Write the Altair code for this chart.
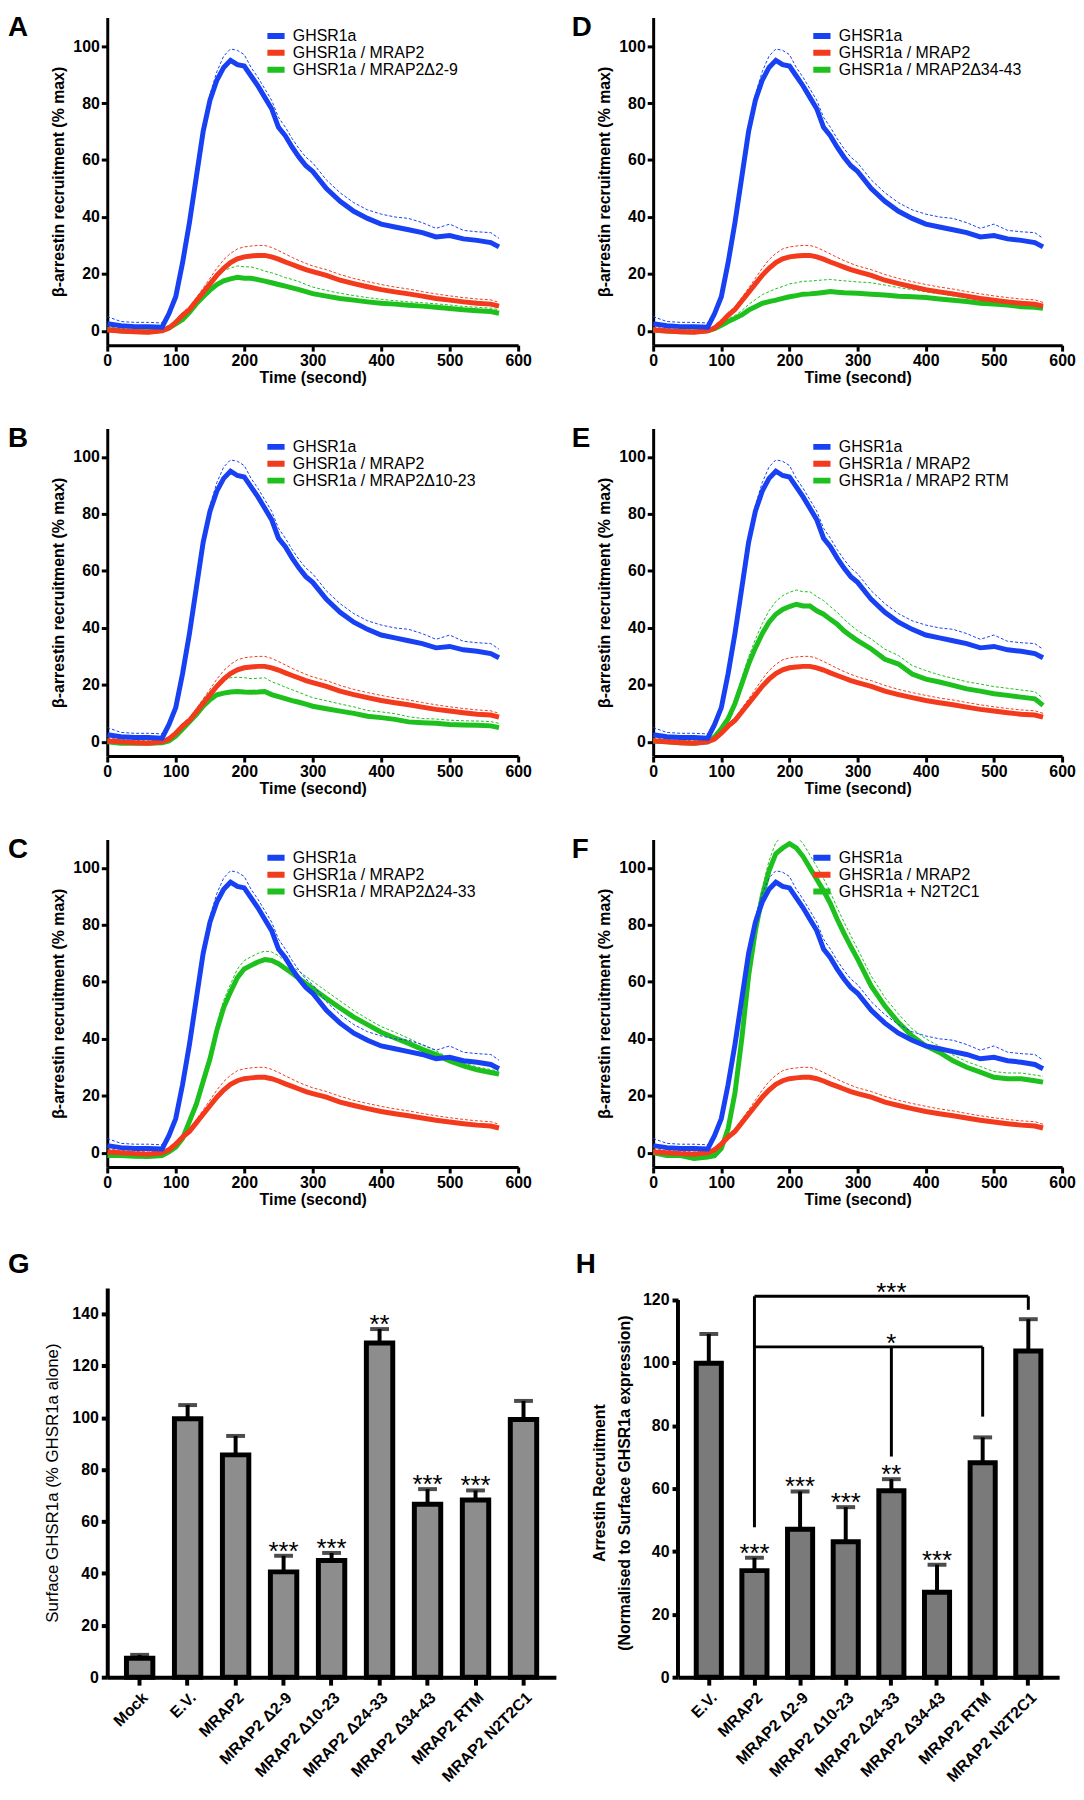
import altair as alt
import pandas as pd

FONT = "Liberation Sans"
BLUE, RED, GREEN = "#1741f2", "#f43a1c", "#1ec01e"

# ---------------- time-course data (seconds, % max) ----------------
TIME = [0, 20, 40, 60, 80, 90, 100, 110, 120, 130, 140, 150, 160, 170, 180, 190, 200,
        210, 220, 230, 240, 250, 260, 270, 280, 290, 300, 320, 340, 360, 380, 400, 420,
        440, 460, 480, 500, 520, 540, 560, 572]

GHSR_MEAN = [2.5, 1.8, 1.5, 1.5, 1.3, 6, 12, 24, 38, 54, 70, 81, 88, 92.5, 95, 93.5, 93,
             89.5, 86, 82, 78, 71.5, 68.5, 64.5, 61, 58, 56, 50, 45.5, 42, 39.5, 37.5, 36.5,
             35.5, 34.5, 33, 33.5, 32.3, 31.8, 31, 29.5]
GHSR_SEM = [2.5, 1.5, 1.5, 1.5, 1.5, 1, 1, 1, 1, 1, 1.5, 2, 3, 4, 4, 5, 4, 3, 3, 3, 3,
            3.5, 3, 3, 3, 3, 3, 3, 3, 3, 3, 3.5, 3.5, 4, 3.5, 3, 4, 3, 3, 3.5, 3]

MRAP2_MEAN = [0.3, 0, -0.3, -0.5, 0, 1, 3, 5.5, 7.5, 10.5, 13.5, 16.5, 19.5, 22, 24, 25.3,
              26, 26.3, 26.5, 26.5, 26, 25.2, 24.2, 23.3, 22.4, 21.5, 20.8, 19.5, 17.8, 16.6,
              15.5, 14.5, 13.7, 13, 12.2, 11.4, 10.8, 10.2, 9.7, 9.4, 8.7]
MRAP2_SEM = [1, 0.8, 0.8, 0.8, 0.8, 0.8, 1, 1, 1, 1.2, 1.5, 2, 2.5, 3, 3.2, 3.5, 3.5, 3.5,
             3.5, 3.5, 3.3, 3, 2.8, 2.5, 2.3, 2.2, 2, 2, 2, 1.8, 1.8, 1.8, 1.7, 1.7, 1.6,
             1.6, 1.5, 1.5, 1.5, 1.5, 1.3]

D2_9_MEAN = [0.5, 0, -0.2, -0.3, 0.2, 1, 2.5, 4, 6.5, 9.5, 12, 14.3, 16.3, 17.6, 18.3, 18.8,
             18.5, 18.5, 18, 17.5, 16.9, 16.3, 15.7, 15.1, 14.5, 13.8, 13.1, 12.2, 11.4,
             10.8, 10.2, 9.7, 9.4, 9, 8.7, 8.3, 7.9, 7.4, 7.1, 6.8, 6.2]
D2_9_SEM = [0.7, 0.7, 0.7, 0.7, 0.7, 1, 1, 1, 1, 1.5, 2, 2.5, 3, 3.5, 3.8, 4, 4, 4, 3.8,
            3.5, 3.5, 3.3, 3, 3, 2.8, 2.5, 2.3, 2, 1.8, 1.6, 1.5, 1.4, 1.2, 1.2, 1.2, 1.2,
            1.2, 1.2, 1.2, 1.2, 1.2]

D10_23_MEAN = [0, -0.5, -0.5, -0.5, -0.3, 0.3, 2, 4.5, 7, 9.6, 12.5, 14.8, 16.5, 17.1, 17.5,
               17.7, 17.5, 17.4, 17.5, 17.7, 16.6, 15.9, 15.2, 14.5, 13.9, 13.2, 12.5, 11.6,
               10.8, 10, 9, 8.5, 7.9, 7, 6.7, 6.5, 6.1, 5.9, 5.8, 5.6, 5]
D10_23_SEM = [0.8, 0.8, 0.8, 0.8, 0.8, 0.8, 1, 1.2, 1.5, 2, 2.5, 3, 4, 4.5, 5, 5, 5, 4.8,
              4.8, 4.8, 4.5, 4.3, 4, 3.8, 3.5, 3.2, 3, 2.8, 2.5, 2.3, 2, 2, 2, 1.8, 1.5,
              1.5, 1.5, 1.5, 1.5, 1.5, 1.5]

D24_33_MEAN = [-1, -1, -1.2, -1.3, -1, 0.3, 2, 5, 11, 17, 25, 33, 43, 51, 56.5, 61.5, 64.5,
               65.8, 67, 67.8, 67.5, 66.4, 64.7, 63, 61.2, 59.4, 57.7, 54.2, 50.8, 47.6, 45,
               42.3, 40.3, 38.4, 36.3, 34.5, 32.2, 30.5, 29.1, 28.2, 27.6]
D24_33_SEM = [0.8, 0.8, 0.8, 0.8, 0.8, 0.8, 1, 1.2, 1.5, 1.8, 2, 2, 2.2, 2.5, 2.7, 3, 3, 3,
              3, 3, 3, 2.8, 2.5, 2.5, 2.5, 2.5, 2.5, 2.5, 2.5, 2.3, 2, 2, 2, 1.8, 1.5, 1.3,
              1, 1, 1, 1, 1]

D34_43_MEAN = [0.3, 0, -0.3, -0.3, 0, 0.8, 2, 3.3, 4.4, 5.6, 7.3, 8.5, 9.7, 10.3, 10.8, 11.4,
               12, 12.4, 12.9, 13, 13.2, 13.5, 13.8, 13.6, 13.4, 13.3, 13.2, 12.9, 12.6, 12.2,
               12, 11.7, 11.2, 10.8, 10.3, 9.7, 9.4, 9.1, 8.5, 8.3, 7.9]
D34_43_SEM = [0.5, 0.5, 0.5, 0.5, 0.5, 0.5, 0.8, 0.9, 1, 1.5, 2, 2.5, 3, 3.5, 4, 4.2, 4.5,
              4.5, 4.5, 4.5, 4.5, 4.4, 4.3, 4.2, 4.2, 4.1, 4, 4, 3.5, 3, 2.5, 2, 1.8, 1.5,
              1.2, 1.2, 1.2, 1.2, 1.2, 1.2, 1.2]

RTM_MEAN = [0.3, 0, -0.3, -0.5, 0, 1.7, 4.6, 8.1, 13.4, 20.3, 27.3, 33, 38, 42, 44.8, 46.5,
            47.5, 48.3, 47.7, 47.7, 46, 44.8, 43, 41.3, 39, 37.2, 35.5, 32.6, 29, 27.3, 23.8,
            22, 21, 19.8, 18.6, 17.8, 16.9, 16.3, 15.7, 15.1, 12.8]
RTM_SEM = [0.8, 0.8, 0.8, 0.8, 0.8, 0.8, 1, 1.2, 1.5, 2, 2.5, 3, 3.5, 4, 4.5, 4.8, 5, 5, 5,
           5, 5, 4.8, 4.5, 4.2, 4, 3.8, 3.5, 3.5, 3.5, 3, 3, 3, 2.5, 2.5, 2.5, 2.5, 2.5,
           2.5, 2.5, 2.5, 2.5]

N2T2C1_MEAN = [0, -1, -1, -2, -1.5, -1, 1.5, 8.5, 21, 40, 62, 78, 90, 99, 105, 107, 108.5,
               107, 104, 100, 96, 92, 87.5, 82, 77, 72.4, 68, 58.5, 51.5, 45.7, 41, 37.5,
               35.2, 32.3, 30, 28.3, 26.5, 26, 26, 25.3, 24.8]
N2T2C1_SEM = [0.8, 0.8, 0.8, 0.8, 0.8, 0.8, 1, 1.2, 1.5, 1.8, 2, 2.5, 3, 3.5, 4, 4, 4, 4.2,
              4.5, 4.5, 4.5, 4.3, 4, 4, 4, 3.8, 3.5, 3.5, 3, 3, 2.5, 2.5, 2.2, 2, 2, 2, 2,
              2, 2, 2, 2]

# ---------------- bar data ----------------
G_CATS = ["Mock", "E.V.", "MRAP2", "MRAP2 Δ2-9", "MRAP2 Δ10-23", "MRAP2 Δ24-33",
          "MRAP2 Δ34-43", "MRAP2 RTM", "MRAP2 N2T2C1"]
G_MEAN = [7.3, 99.6, 85.7, 40.6, 45.0, 128.8, 66.7, 68.3, 99.3]
G_SEM = [1.3, 5.3, 7.3, 6.2, 2.9, 5.4, 5.8, 3.7, 7.2]
G_SIG = ["", "", "", "***", "***", "**", "***", "***", ""]

H_CATS = ["E.V.", "MRAP2", "MRAP2 Δ2-9", "MRAP2 Δ10-23", "MRAP2 Δ24-33",
          "MRAP2 Δ34-43", "MRAP2 RTM", "MRAP2 N2T2C1"]
H_MEAN = [99.9, 33.9, 47.1, 43.1, 59.3, 27.0, 68.2, 103.8]
H_SEM = [9.3, 4.1, 12.0, 11.0, 3.7, 8.8, 8.1, 10.1]
H_SIG = ["", "***", "***", "***", "**", "***", "", ""]

# significance brackets in panel H
BR_H_FROM = ["MRAP2", "MRAP2"]
BR_H_TO = ["MRAP2 N2T2C1", "MRAP2 RTM"]
BR_H_Y = [121.2, 105.1]
BR_V_CAT = ["MRAP2", "MRAP2 N2T2C1", "MRAP2 RTM", "MRAP2 Δ24-33"]
BR_V_TOP = [121.2, 121.2, 105.1, 105.1]
BR_V_BOTTOM = [47.7, 116.9, 82.9, 70.2]
BR_TXT_CAT = ["MRAP2 Δ24-33", "MRAP2 Δ24-33"]
BR_TXT_Y = [121.2, 105.1]
BR_TXT = ["***", "*"]


def letter_mark(letter, x, y):
    return alt.Chart(pd.DataFrame({"letter": [letter]})).mark_text(
        fontSize=28, fontWeight="bold", font=FONT, color="black", align="left",
        baseline="alphabetic").encode(x=alt.value(x), y=alt.value(y), text="letter:N")


def time_panel(letter, green_name, g_mean, g_sem, width, lx):
    names = ["GHSR1a", "GHSR1a / MRAP2", green_name]
    colors = [BLUE, RED, GREEN]
    means = [GHSR_MEAN, MRAP2_MEAN, g_mean]
    sems = [GHSR_SEM, MRAP2_SEM, g_sem]
    cscale = alt.Scale(domain=names, range=colors)
    xaxis = alt.Axis(values=[0, 100, 200, 300, 400, 500, 600], title="Time (second)",
                     domainWidth=3, tickWidth=3, tickSize=6, labelPadding=2,
                     titlePadding=1, labelFlush=False, labelOverlap=False)
    yaxis = alt.Axis(values=[0, 20, 40, 60, 80, 100], title="β-arrestin recruitment (% max)",
                     domainWidth=3, tickWidth=3, tickSize=6, labelPadding=2,
                     titlePadding=6, labelFlush=False, labelOverlap=False)
    xs = alt.Scale(domain=[0, 600], nice=False, zero=False)
    ys = alt.Scale(domain=[-5, 110], nice=False, zero=False)
    legend = alt.Legend(title=None, orient="none", legendX=158, legendY=10,
                        symbolType="stroke", symbolStrokeWidth=6, symbolSize=300,
                        labelFontSize=16, labelFont=FONT, labelFontWeight="normal",
                        labelColor="black", rowPadding=0, clipHeight=17, labelOffset=5,
                        padding=0, labelLimit=0)
    layers = []
    for i in [2, 1, 0]:
        df = pd.DataFrame({"t": TIME, "series": names[i], "mean": means[i],
                           "upper": [m + s for m, s in zip(means[i], sems[i])]})
        base = alt.Chart(df)
        layers.append(base.mark_line(strokeWidth=1, strokeDash=[3, 2], clip=True,
                                     color=colors[i]).encode(
            x=alt.X("t:Q", scale=xs, axis=xaxis),
            y=alt.Y("upper:Q", scale=ys, axis=yaxis)))
        layers.append(base.mark_line(strokeWidth=5, clip=True).encode(
            x=alt.X("t:Q", scale=xs, axis=xaxis),
            y=alt.Y("mean:Q", scale=ys, axis=yaxis),
            color=alt.Color("series:N", scale=cscale, legend=legend)))
    layers.append(letter_mark(letter, lx, 19))
    return alt.layer(*layers).properties(width=width, height=330)


def bar_panel(letter, cats, mean, sem, sig, fill, width, ymax, yvalues, ytitle,
              titlepad, title_size, title_weight, lx, brackets=False):
    df = pd.DataFrame({"cat": cats, "mean": mean,
                       "top": [m + s for m, s in zip(mean, sem)], "sig": sig})
    xs = alt.Scale(domain=cats, paddingInner=0.45, paddingOuter=0.4)
    xaxis = alt.Axis(title=None, labelAngle=-45, labelAlign="right", labelBaseline="top",
                     labelFontSize=16, domainWidth=4, tickWidth=4, tickSize=8,
                     labelPadding=4, labelOverlap=False, labelLimit=0)
    ys = alt.Scale(domain=[0, ymax], nice=False, zero=True)
    yaxis = alt.Axis(values=yvalues, title=ytitle, domainWidth=4, tickWidth=4, tickSize=6,
                     labelPadding=3, titlePadding=titlepad, titleFontWeight=title_weight,
                     titleFontSize=title_size, titleLineHeight=25, labelFlush=False,
                     domain=not brackets)
    x = alt.X("cat:N", scale=xs, axis=xaxis, sort=cats)
    base = alt.Chart(df)
    bars = base.mark_bar(fill=fill, stroke="black", strokeWidth=5).encode(
        x=x, y=alt.Y("mean:Q", scale=ys, axis=yaxis))
    err = base.mark_rule(strokeWidth=4, color="black").encode(
        x=x, y=alt.Y("mean:Q", scale=ys, axis=yaxis), y2="top:Q")
    cap = base.mark_tick(thickness=4, size=19, color="black").encode(
        x=x, y=alt.Y("top:Q", scale=ys, axis=yaxis))
    stars = base.mark_text(fontSize=26, baseline="alphabetic", dy=4, color="black",
                           font=FONT).encode(
        x=x, y=alt.Y("top:Q", scale=ys, axis=yaxis), text="sig:N")
    layers = [bars, err, cap, stars]
    if brackets:
        adf = pd.DataFrame({"y0": [0], "y1": [120]})
        axis_line = alt.Chart(adf).mark_rule(strokeWidth=4, color="black").encode(
            x=alt.value(0), y=alt.Y("y0:Q", scale=ys, axis=yaxis), y2="y1:Q")
        hdf = pd.DataFrame({"a": BR_H_FROM, "b": BR_H_TO, "y": BR_H_Y})
        hr = alt.Chart(hdf).mark_rule(strokeWidth=3, color="black").encode(
            x=alt.X("a:N", scale=xs, axis=xaxis, sort=cats), x2="b:N",
            y=alt.Y("y:Q", scale=ys, axis=yaxis))
        vdf = pd.DataFrame({"c": BR_V_CAT, "t": BR_V_TOP, "b": BR_V_BOTTOM})
        vr = alt.Chart(vdf).mark_rule(strokeWidth=3, color="black").encode(
            x=alt.X("c:N", scale=xs, axis=xaxis, sort=cats),
            y=alt.Y("t:Q", scale=ys, axis=yaxis), y2="b:Q")
        tdf = pd.DataFrame({"c": BR_TXT_CAT, "y": BR_TXT_Y, "s": BR_TXT})
        tx = alt.Chart(tdf).mark_text(fontSize=26, baseline="alphabetic", dy=5,
                                      color="black", font=FONT).encode(
            x=alt.X("c:N", scale=xs, axis=xaxis, sort=cats),
            y=alt.Y("y:Q", scale=ys, axis=yaxis), text="s:N")
        layers += [axis_line, hr, vr, tx]
    layers.append(letter_mark(letter, lx, -15))
    return alt.layer(*layers).properties(width=width, height=392)


A = time_panel("A", "GHSR1a / MRAP2Δ2-9", D2_9_MEAN, D2_9_SEM, 414, -100)
D = time_panel("D", "GHSR1a / MRAP2Δ34-43", D34_43_MEAN, D34_43_SEM, 412, -82)
B = time_panel("B", "GHSR1a / MRAP2Δ10-23", D10_23_MEAN, D10_23_SEM, 414, -100)
E = time_panel("E", "GHSR1a / MRAP2 RTM", RTM_MEAN, RTM_SEM, 412, -82)
C = time_panel("C", "GHSR1a / MRAP2Δ24-33", D24_33_MEAN, D24_33_SEM, 414, -100)
F = time_panel("F", "GHSR1a + N2T2C1", N2T2C1_MEAN, N2T2C1_SEM, 412, -82)

G = bar_panel("G", G_CATS, G_MEAN, G_SEM, G_SIG, "#8d8d8d", 452, 150,
              [0, 20, 40, 60, 80, 100, 120, 140], "Surface GHSR1a (% GHSR1a alone)",
              10, 17, "normal", -100)
H = bar_panel("H", H_CATS, H_MEAN, H_SEM, H_SIG, "#7a7a7a", 384, 123.8,
              [0, 20, 40, 60, 80, 100, 120],
              ["Arrestin  Recruitment", "(Normalised to Surface GHSR1a expression)"],
              10, 16, "bold", -103, brackets=True)


def row(a, b, spacing):
    return alt.hconcat(a, b, spacing=spacing).resolve_scale(
        color="independent", x="independent", y="independent").resolve_legend(
        color="independent")


top = alt.vconcat(row(A, D, 40), row(B, E, 40), row(C, F, 40), spacing=40).resolve_scale(
    color="independent", x="independent", y="independent").resolve_legend(color="independent")
chart = alt.vconcat(top, row(G, H, 20), spacing=44).resolve_scale(
    color="independent", x="independent", y="independent").resolve_legend(color="independent")

chart = chart.configure(font=FONT, padding=0).configure_view(stroke=None).configure_axis(
    grid=False, domainColor="black", tickColor="black", labelColor="black",
    titleColor="black", labelFont=FONT, titleFont=FONT, labelFontWeight="bold",
    labelFontSize=16, titleFontSize=16, titleFontWeight="bold")

chart.save("out.html", embed_options={"renderer": "svg", "actions": False})
